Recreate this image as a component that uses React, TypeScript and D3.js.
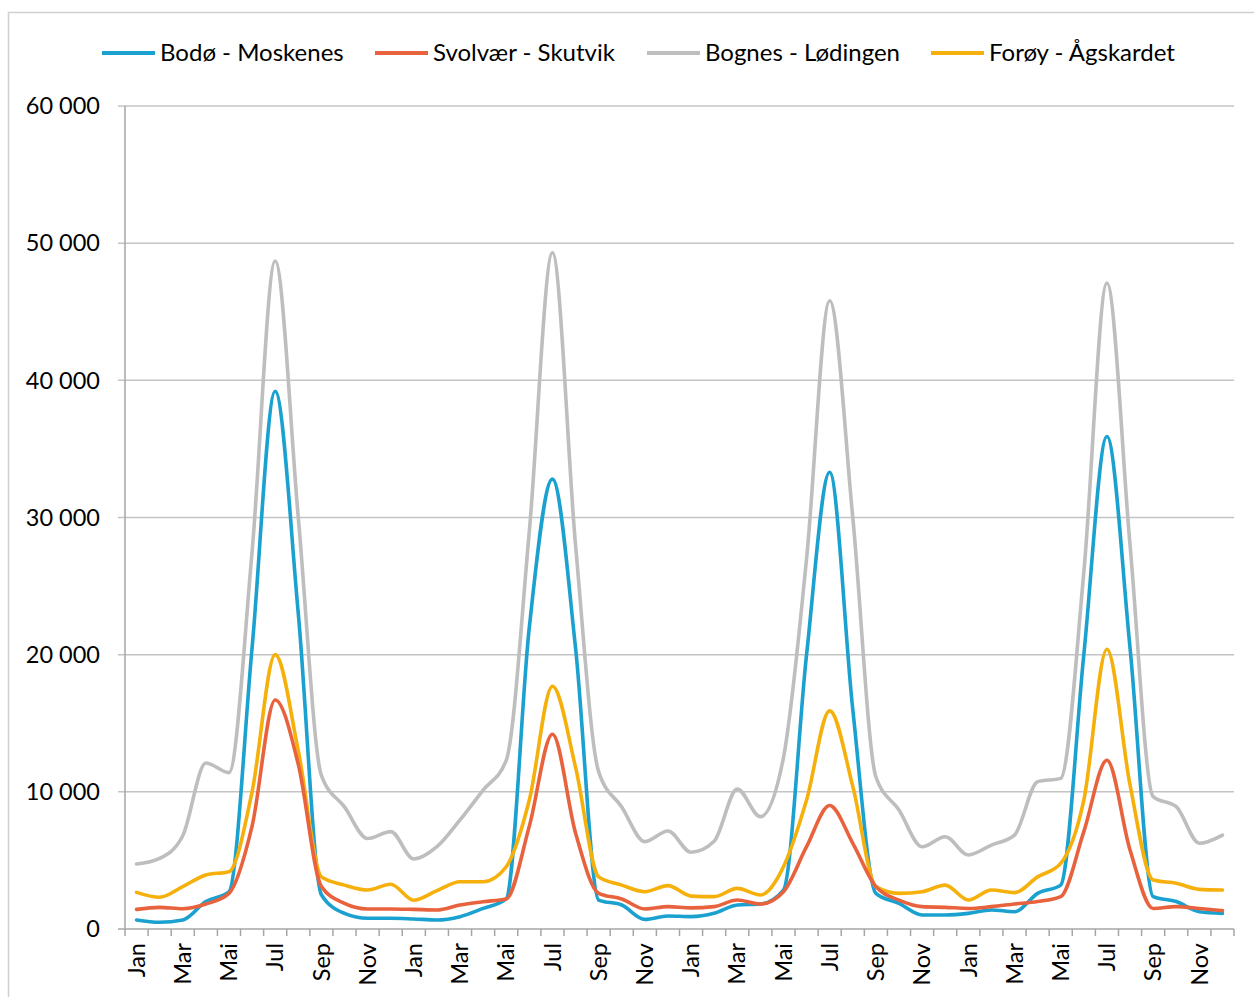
import React from "react";
import * as d3 from "d3";

// monthly ferry traffic, 4 years x 12 months
const months = ["Jan", "Feb", "Mar", "Apr", "Mai", "Jun", "Jul", "Aug", "Sep", "Okt", "Nov", "Des"];
const categories = [...months, ...months, ...months, ...months];

const seriesNames = ["Bodø - Moskenes", "Svolvær - Skutvik", "Bognes - Lødingen", "Forøy - Ågskardet"];
const seriesColors = ["#1ba1d0", "#e8633d", "#bebebe", "#f6b00c"];

const bodoMoskenes = [
  660, 490, 660, 2000, 2700, 20500, 39200, 23000, 2500, 1140, 780, 780,
  730, 660, 900, 1500, 2190, 22000, 32800, 20500, 2110, 1750, 700, 950,
  900, 1140, 1750, 1820, 2840, 20000, 33300, 16000, 2600, 1870, 1020, 1020,
  1140, 1390, 1260, 2600, 3200, 20000, 35900, 20500, 2360, 2000, 1260, 1140,
];
const svolvaerSkutvik = [
  1430, 1580, 1480, 1820, 2600, 7500, 16700, 12000, 3090, 1870, 1460, 1460,
  1430, 1390, 1750, 1990, 2190, 7500, 14200, 7000, 2600, 2190, 1460, 1630,
  1540, 1630, 2110, 1820, 2720, 6000, 9000, 6250, 3090, 2110, 1630, 1580,
  1500, 1630, 1820, 2000, 2360, 7100, 12300, 5760, 1500, 1630, 1500, 1340,
];
const bognesLodingen = [
  4740, 5150, 6800, 12100, 11400, 27500, 48700, 30000, 11200, 8900, 6600, 7100,
  5100, 6000, 7950, 10130, 12300, 29000, 49300, 28000, 11470, 8900, 6370, 7140,
  5600, 6400, 10200, 8190, 12500, 27000, 45800, 30000, 11100, 8680, 6000, 6730,
  5400, 6120, 6850, 10740, 10980, 26000, 47100, 28000, 9650, 8920, 6250, 6850,
];
const foroyAgskardet = [
  2670, 2310, 3090, 3940, 4180, 10000, 20000, 13000, 3800, 3200, 2840, 3260,
  2100, 2800, 3450, 3450, 4540, 9400, 17700, 11800, 3800, 3200, 2720, 3160,
  2400, 2360, 2960, 2480, 4540, 9400, 15900, 10400, 3090, 2600, 2720, 3200,
  2110, 2840, 2650, 3800, 4790, 9400, 20400, 10500, 3570, 3330, 2890, 2840,
];

const yTicks = [0, 10000, 20000, 30000, 40000, 50000, 60000];

const allSeries = [bodoMoskenes, svolvaerSkutvik, bognesLodingen, foroyAgskardet];
// legend placement (layout only)
const legendX = [102, 375, 647, 931];

const W = 1254;
const H = 997;
const left = 125;
const right = 1234;
const top = 106;
const bottom = 929;
const font = "Lato, 'Open Sans', sans-serif";

export default function App() {
  const x = d3.scaleBand<number>()
    .domain(d3.range(categories.length))
    .range([left, right])
    .paddingInner(0)
    .paddingOuter(0);
  const y = d3.scaleLinear().domain([0, 60000]).range([bottom, top]);
  const fmt = (v: number) => d3.format(",")(v).replace(/,/g, " ");

  const line = d3.line<number>()
    .x((_, i) => (x(i) as number) + x.bandwidth() / 2)
    .y((d) => y(d))
    .curve(d3.curveMonotoneX);

  // draw order: gray at back, like the original
  const order = [2, 0, 3, 1];

  return (
    <svg width={W} height={H} style={{ position: "absolute", left: 0, top: 0, background: "#fff" }}>
      <rect x={8.5} y={12.5} width={1300} height={1100} fill="#fff" stroke="#d0d0d0" strokeWidth={1.5} />

      {/* grid */}
      {yTicks.map((t) => (
        <g key={t}>
          <line x1={left - 7} x2={right} y1={y(t)} y2={y(t)} stroke={t === 0 ? "#a6a6a6" : "#c4c4c4"} strokeWidth={1.5} />
          <text x={100} y={y(t)} dy="0.35em" textAnchor="end" fontFamily={font} fontSize={23.5} fill="#000">
            {fmt(t)}
          </text>
        </g>
      ))}
      <line x1={left} x2={left} y1={top} y2={bottom} stroke="#a6a6a6" strokeWidth={1.5} />

      {/* x ticks between categories */}
      {d3.range(categories.length + 1).map((i) => {
        const xx = left + i * x.step();
        return <line key={i} x1={xx} x2={xx} y1={bottom} y2={bottom + 7} stroke="#a6a6a6" strokeWidth={1.5} />;
      })}
      {categories.map((c, i) =>
        i % 2 === 0 ? (
          <text
            key={i}
            transform={`translate(${(x(i) as number) + x.bandwidth() / 2},${bottom + 14}) rotate(-90)`}
            dy="0.35em"
            textAnchor="end"
            fontFamily={font}
            fontSize={23.5}
            fill="#000"
          >
            {c}
          </text>
        ) : null
      )}

      {/* lines */}
      {order.map((k) => (
        <path
          key={k}
          d={line(allSeries[k]) || ""}
          fill="none"
          stroke={seriesColors[k]}
          strokeWidth={3.6}
          strokeLinejoin="round"
          strokeLinecap="round"
        />
      ))}

      {/* legend */}
      {seriesNames.map((name, k) => (
        <g key={name} transform={`translate(${legendX[k]},53)`}>
          <line x1={0} x2={53} y1={0} y2={0} stroke={seriesColors[k]} strokeWidth={4} />
          <text x={58} dy="0.35em" fontFamily={font} fontSize={24} fill="#000">
            {name}
          </text>
        </g>
      ))}
    </svg>
  );
}
